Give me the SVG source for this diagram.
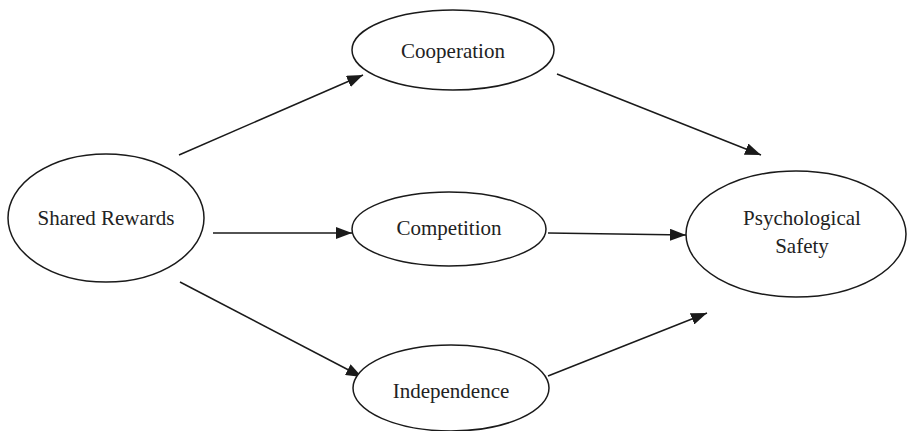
<svg xmlns="http://www.w3.org/2000/svg" width="907" height="431" viewBox="0 0 907 431">
<style>
.n ellipse{fill:#fff;stroke:#1a1a1a;stroke-width:1.5}
.n text{font-family:"Liberation Serif","Times New Roman",serif;font-size:21px;fill:#222;text-anchor:middle}
.c line{stroke:#1a1a1a;stroke-width:1.5;marker-end:url(#ah)}
</style>
<defs>
<marker id="ah" viewBox="0 0 16 12" refX="16" refY="6" markerWidth="16" markerHeight="12" markerUnits="userSpaceOnUse" orient="auto">
<path d="M0,0 L16,6 L0,12 Z" fill="#1a1a1a"/>
</marker>
</defs>
<g class="c" id="connectors">
<line x1="179" y1="155" x2="363" y2="75"/>
<line x1="213" y1="233" x2="352" y2="233"/>
<line x1="180" y1="282" x2="362" y2="377"/>
<line x1="557" y1="74" x2="761" y2="155"/>
<line x1="548" y1="233" x2="686" y2="235"/>
<line x1="548" y1="376" x2="707" y2="313"/>
</g>
<g class="n" id="shared-rewards">
<ellipse cx="106" cy="218" rx="98" ry="64"/>
<text x="106" y="225">Shared Rewards</text>
</g>
<g class="n" id="cooperation">
<ellipse cx="453" cy="50" rx="101" ry="40"/>
<text x="453" y="58">Cooperation</text>
</g>
<g class="n" id="competition">
<ellipse cx="449" cy="229" rx="97" ry="37"/>
<text x="449" y="235">Competition</text>
</g>
<g class="n" id="independence">
<ellipse cx="451" cy="388" rx="98" ry="43"/>
<text x="451" y="398">Independence</text>
</g>
<g class="n" id="psychological-safety">
<ellipse cx="796" cy="234" rx="110" ry="63"/>
<text x="802" y="225">Psychological</text>
<text x="802" y="253">Safety</text>
</g>
</svg>
